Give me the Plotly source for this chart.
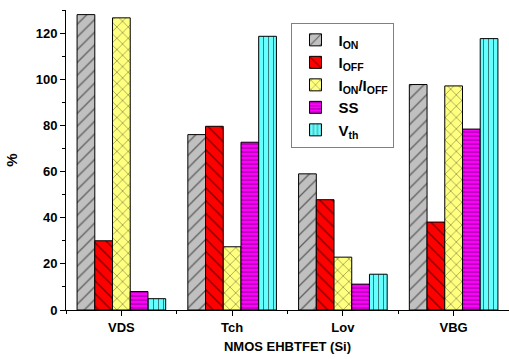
import plotly.graph_objects as go

categories = ["VDS", "Tch", "Lov", "VBG"]
series_names = ["I<sub>ON</sub>", "I<sub>OFF</sub>", "I<sub>ON</sub>/I<sub>OFF</sub>", "SS", "V<sub>th</sub>"]
ion = [128.0, 76.0, 59.0, 97.7]
ioff = [30.0, 79.6, 47.8, 38.1]
ion_ioff = [126.6, 27.4, 22.9, 97.1]
ss = [8.0, 72.7, 11.2, 78.4]
vth = [4.9, 118.6, 15.5, 117.6]

values = [ion, ioff, ion_ioff, ss, vth]
colors = ["#c0c0c0", "#ff0000", "#ffff80", "#ff00ff", "#66ffff"]
shapes = ["/", "\\", "x", "-", "|"]
sizes = [9, 9, 8, 4, 5]
solidities = [0.15, 0.15, 0.15, 0.25, 0.2]

xpos = list(range(len(categories)))

fig = go.Figure()
for name, vals, col, shp, sz, so in zip(series_names, values, colors, shapes, sizes, solidities):
    fig.add_trace(go.Bar(
        x=xpos, y=vals, name=name,
        marker=dict(color=col, line=dict(color="#000000", width=1),
                    pattern=dict(shape=shp, fgcolor="#000000", bgcolor=col,
                                 size=sz, solidity=so, fillmode="overlay")),
    ))

font_family = "Liberation Sans, Arial, sans-serif"
fig.update_layout(
    width=509, height=359,
    margin=dict(l=66, r=0, t=10, b=49, autoexpand=False),
    paper_bgcolor="white", plot_bgcolor="white",
    barmode="group", bargap=0.2, bargroupgap=0,
    font=dict(family=font_family, size=13, color="black"),
    showlegend=True,
    legend=dict(x=0.509, y=0.958, xanchor="left", yanchor="top",
                bordercolor="#808080", borderwidth=1, bgcolor="white",
                font=dict(size=15, family=font_family, color="black", weight="bold"),
                itemwidth=36, tracegroupgap=0),
    xaxis=dict(range=[-0.5, 3.5], tickvals=xpos, ticktext=["<b>%s</b>" % c for c in categories],
               automargin=False,
               showline=True, linecolor="black", linewidth=1, mirror=False,
               ticks="outside", ticklen=5, tickcolor="black", showgrid=False, zeroline=False,
               minor=dict(tick0=0.5, dtick=1, ticks="outside", ticklen=3, tickcolor="black"),
               tickfont=dict(size=13, family=font_family),
               title=dict(text="<b>NMOS EHBTFET (Si)</b>", font=dict(size=13, family=font_family), standoff=8)),
    yaxis=dict(range=[0, 130], tick0=0, dtick=20, automargin=False,
               showline=True, linecolor="black", linewidth=1,
               ticks="outside", ticklen=5, tickcolor="black", showgrid=False, zeroline=False,
               minor=dict(dtick=10, ticks="outside", ticklen=3, tickcolor="black"),
               tickfont=dict(size=13, family=font_family, weight="bold"),
               title=dict(text="<b>%</b>", font=dict(size=15, family=font_family), standoff=14)),
)

fig.write_html("out.html", config={"displayModeBar": False},
               post_script="document.body.style.margin='0px';document.body.style.padding='0px';")
